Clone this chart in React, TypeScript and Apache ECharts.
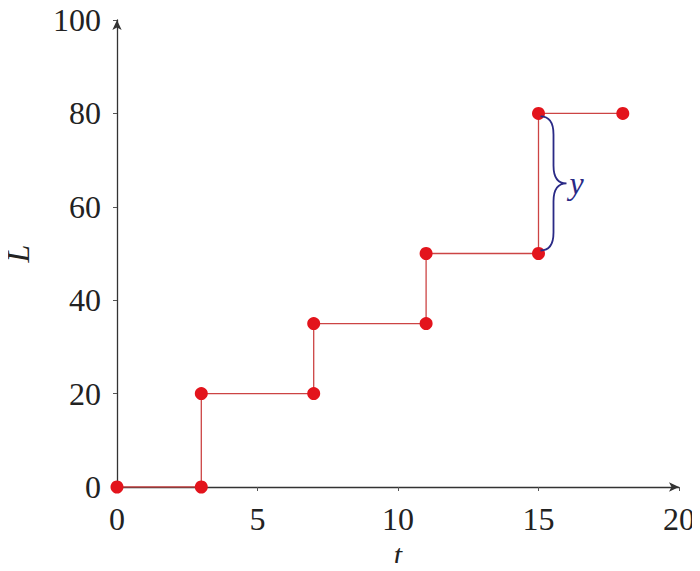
import React, { useEffect, useRef } from 'react';
import * as echarts from 'echarts';

// step points of L(t)
const tValues = [0, 3, 3, 7, 7, 11, 11, 15, 15, 18];
const lValues = [0, 0, 20, 20, 35, 35, 50, 50, 80, 80];

const xTicks = [0, 5, 10, 15, 20];
const yTicks = [0, 20, 40, 60, 80, 100];

// brace marking the jump y: [t, from, to]
const braceData = [[15, 50, 80]];
const braceLabel = 'y';

const serif = 'Liberation Serif';

const App: React.FC = () => {
  const chartRef = useRef<HTMLDivElement>(null);

  useEffect(() => {
    if (!chartRef.current) return;
    const chart = echarts.init(chartRef.current, undefined, { renderer: 'svg' });

    const points = tValues.map((t, i) => [t, lValues[i]]);

    const tickAxis = (min: number, max: number, interval: number) => ({
      type: 'value' as const,
      min,
      max,
      interval,
      axisLine: { show: false },
      axisLabel: { show: false },
      splitLine: { show: false },
      axisTick: { show: true, inside: true, length: 4, lineStyle: { color: '#555', width: 1 } },
    });

    chart.setOption({
      animation: false,
      grid: { left: 117, right: 21, top: 20, bottom: 84, outerBoundsMode: 'none', containLabel: false },
      xAxis: [
        {
          type: 'value',
          min: xTicks[0],
          max: xTicks[xTicks.length - 1],
          interval: 5,
          name: 't',
          nameLocation: 'middle',
          nameGap: 38,
          nameTextStyle: { fontFamily: serif, fontStyle: 'italic', fontSize: 30, color: '#222', lineHeight: 30 },
          axisLine: {
            show: true,
            onZero: false,
            symbol: ['none', 'arrow'],
            symbolSize: [7, 10],
            lineStyle: { color: '#333', width: 1.3 },
          },
          axisTick: { show: true, length: 4, lineStyle: { color: '#555', width: 1 } },
          axisLabel: { fontFamily: serif, fontSize: 32, color: '#222', margin: 16 },
          splitLine: { show: false },
        },
        tickAxis(xTicks[0], xTicks[xTicks.length - 1], 5),
      ],
      yAxis: [
        {
          type: 'value',
          min: yTicks[0],
          max: yTicks[yTicks.length - 1],
          interval: 20,
          name: 'L',
          nameLocation: 'middle',
          nameGap: 83,
          nameRotate: 90,
          nameTextStyle: { fontFamily: serif, fontStyle: 'italic', fontSize: 32, color: '#222' },
          axisLine: {
            show: true,
            onZero: false,
            symbol: ['none', 'arrow'],
            symbolSize: [7, 10],
            lineStyle: { color: '#333', width: 1.3 },
          },
          axisTick: { show: true, length: 4, lineStyle: { color: '#555', width: 1 } },
          axisLabel: { fontFamily: serif, fontSize: 32, color: '#222', margin: 16 },
          splitLine: { show: false },
        },
        tickAxis(yTicks[0], yTicks[yTicks.length - 1], 20),
      ],
      series: [
        {
          type: 'line',
          data: points,
          xAxisIndex: 0,
          yAxisIndex: 0,
          symbol: 'circle',
          symbolSize: 13,
          showAllSymbol: true,
          lineStyle: { color: '#cc4444', width: 1.3 },
          itemStyle: { color: '#e3141c', borderWidth: 0 },
          z: 3,
        },
        {
          type: 'custom',
          data: braceData,
          xAxisIndex: 0,
          yAxisIndex: 0,
          z: 4,
          renderItem: (_params: any, api: any) => {
            const top = api.coord([api.value(0), api.value(2)]);
            const bot = api.coord([api.value(0), api.value(1)]);
            const x0 = top[0] + 2;
            const yT = top[1] + 3;
            const yB = bot[1] - 3;
            const ym = (yT + yB) / 2;
            const h = 13;
            const r = 18;
            const d =
              `M${x0},${yT} Q${x0 + h},${yT} ${x0 + h},${yT + r} ` +
              `L${x0 + h},${ym - r} Q${x0 + h},${ym} ${x0 + 2 * h},${ym} ` +
              `Q${x0 + h},${ym} ${x0 + h},${ym + r} ` +
              `L${x0 + h},${yB - r} Q${x0 + h},${yB} ${x0},${yB}`;
            return {
              type: 'group',
              children: [
                {
                  type: 'path',
                  shape: { pathData: d },
                  style: { fill: 'none', stroke: '#2a2a86', lineWidth: 1.8 },
                },
                {
                  type: 'text',
                  x: x0 + 2 * h + 3,
                  y: ym,
                  style: {
                    text: braceLabel,
                    fontFamily: serif,
                    fontStyle: 'italic',
                    fontSize: 32,
                    fill: '#2a2a86',
                    verticalAlign: 'middle',
                  },
                },
              ],
            };
          },
        },
      ],
    });

    return () => {
      chart.dispose();
    };
  }, []);

  return <div ref={chartRef} style={{ width: 700, height: 571, margin: -8 }} />;
};

export default App;
